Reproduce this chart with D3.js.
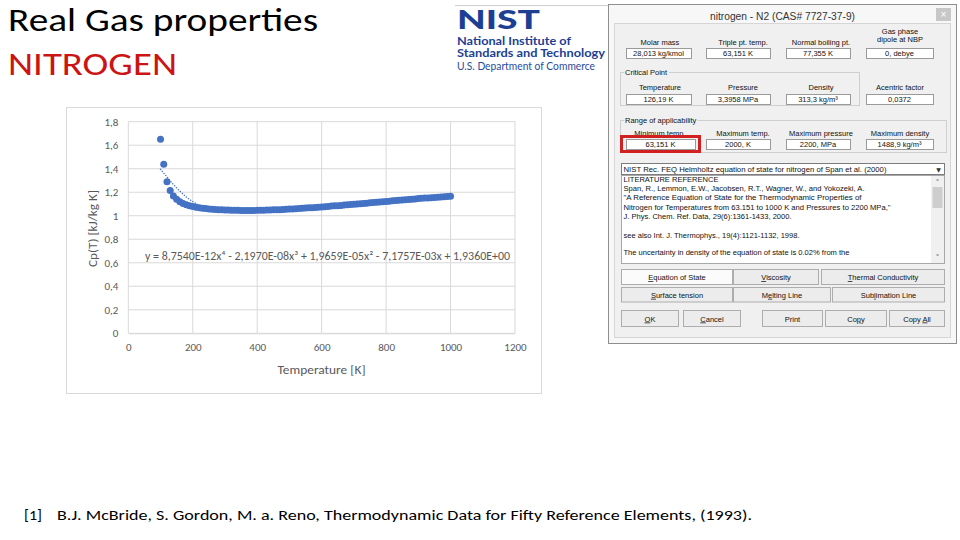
<!DOCTYPE html>
<html><head><meta charset="utf-8">
<script src="https://cdn.jsdelivr.net/npm/d3@7"></script>
<style>body{margin:0;background:#fff;overflow:hidden}svg{display:block}</style>
</head><body>
<svg id="s" width="960" height="540"></svg>
<script>
// ---------------- DATA ----------------
const temperatures = [100,110,120,130,140,150,160,170,180,190,200,210,220,230,240,250,260,270,280,290,
  300,310,320,330,340,350,360,370,380,390,400,410,420,430,440,450,460,470,480,490,
  500,510,520,530,540,550,560,570,580,590,600,610,620,630,640,650,660,670,680,690,
  700,710,720,730,740,750,760,770,780,790,800,810,820,830,840,850,860,870,880,890,
  900,910,920,930,940,950,960,970,980,990,1000];
const cpValues = [1.650,1.437,1.290,1.214,1.168,1.140,1.120,1.105,1.094,1.085,
  1.078,1.072,1.068,1.064,1.061,1.058,1.056,1.054,1.052,1.050,
  1.049,1.048,1.047,1.046,1.046,1.045,1.045,1.045,1.045,1.045,
  1.046,1.046,1.047,1.048,1.049,1.050,1.051,1.052,1.054,1.055,
  1.057,1.058,1.060,1.062,1.063,1.065,1.067,1.069,1.071,1.073,
  1.075,1.077,1.079,1.082,1.084,1.086,1.088,1.091,1.093,1.095,
  1.098,1.100,1.103,1.105,1.107,1.110,1.112,1.115,1.117,1.120,
  1.122,1.124,1.127,1.129,1.132,1.134,1.136,1.139,1.141,1.143,
  1.146,1.148,1.150,1.152,1.154,1.156,1.158,1.160,1.162,1.164,1.166];
// trendline
const trendT  = [100,120,140,160,180,200,220,250,300,350,400,450,500,600,700,800,900,1000];
const trendCp = [1.395,1.33,1.265,1.21,1.16,1.12,1.09,1.062,1.036,1.027,1.03,1.04,1.052,1.074,1.098,1.123,1.146,1.166];
const xTicks = [0,200,400,600,800,1000,1200];
const yTicks = [0,0.2,0.4,0.6,0.8,1,1.2,1.4,1.6,1.8];
const yTickLabels = ["0","0,2","0,4","0,6","0,8","1","1,2","1,4","1,6","1,8"];
const equationText = "y = 8,7540E-12x\u2074 - 2,1970E-08x\u00B3 + 1,9659E-05x\u00B2 - 7,1757E-03x + 1,9360E+00";

// dialog content
const row1Labels = ["Molar mass","Triple pt. temp.","Normal boiling pt."];
const row1Values = ["28,013 kg/kmol","63,151 K","77,355 K","0, debye"];
const row2Labels = ["Temperature","Pressure","Density","Acentric factor"];
const row2Values = ["126,19 K","3,3958 MPa","313,3 kg/m\u00B3","0,0372"];
const row3Labels = ["Minimum temp.","Maximum temp.","Maximum pressure","Maximum density"];
const row3Values = ["63,151 K","2000, K","2200, MPa","1488,9 kg/m\u00B3"];
const refLines = ["LITERATURE REFERENCE",
  "Span, R., Lemmon, E.W., Jacobsen, R.T., Wagner, W., and Yokozeki, A.",
  "\"A Reference Equation of State for the Thermodynamic Properties of",
  "Nitrogen for Temperatures from 63.151 to 1000 K and Pressures to 2200 MPa,\"",
  "J. Phys. Chem. Ref. Data, 29(6):1361-1433, 2000.",
  "see also Int. J. Thermophys., 19(4):1121-1132, 1998.",
  "The uncertainty in density of the equation of state is 0.02% from the"];
const buttonLabels = [["Equation of State","Viscosity","Thermal Conductivity"],
  ["Surface tension","Melting Line","Sublimation Line"],
  ["OK","Cancel","Print","Copy","Copy All"]];

// ---------------- DRAW ----------------
const svg = d3.select('#s');
const F = "Carlito, Calibri, Lato, sans-serif";
const D = "'Liberation Sans', Arial, sans-serif";
function T(g, x, y, s, o) {
  o = o || {};
  const t = g.append('text').attr('x', x).attr('y', y).text(s)
    .attr('font-family', o.ff || F).attr('font-size', o.fs || 12)
    .attr('fill', o.fill || '#000').attr('text-anchor', o.anchor || 'start');
  if (o.fw) t.attr('font-weight', o.fw);
  if (o.len) t.attr('textLength', o.len).attr('lengthAdjust', 'spacingAndGlyphs');
  return t;
}

// slide title
T(svg, 8, 31, "Real Gas properties", {fs: 32, len: 310});
T(svg, 8, 75, "NITROGEN", {fs: 32, fill: '#cc1414', len: 169});

// footnote
T(svg, 24, 520, "[1]", {fs: 15, len: 18});
T(svg, 57, 520, "B.J. McBride, S. Gordon, M. a. Reno, Thermodynamic Data for Fifty Reference Elements, (1993).", {fs: 15, len: 695});

// NIST logo
svg.append('line').attr('x1', 455).attr('x2', 609).attr('y1', 5.5).attr('y2', 5.5).attr('stroke', '#cfcfcf');
const nb = '#1c3f93';
T(svg, 457, 28.5, "NIST", {fs: 27, fw: 900, fill: nb, len: 83, ff: "Lato, sans-serif"});
T(svg, 457, 44.5, "National Institute of", {fs: 10.5, fw: 700, fill: nb, len: 114, ff: "Lato, sans-serif"});
T(svg, 457, 57, "Standards and Technology", {fs: 10.5, fw: 700, fill: nb, len: 148, ff: "Lato, sans-serif"});
T(svg, 457, 69.5, "U.S. Department of Commerce", {fs: 10.5, fill: '#2b4b9b', len: 138, ff: "Lato, sans-serif"});

// ---------------- CHART ----------------
svg.append('rect').attr('x', 66.5).attr('y', 107.5).attr('width', 475).attr('height', 286)
  .attr('fill', '#fff').attr('stroke', '#d9d9d9');
const x = d3.scaleLinear([0, 1200], [128.3, 515]);
const y = d3.scaleLinear([0, 1.8], [333.3, 121.7]);
const grid = svg.append('g');
grid.selectAll('line.h').data(yTicks).join('line').attr('class', 'h')
  .attr('x1', x(0)).attr('x2', x(1200)).attr('y1', d => y(d)).attr('y2', d => y(d))
  .attr('stroke', '#d9d9d9').attr('stroke-width', 1);
grid.selectAll('line.v').data(xTicks).join('line').attr('class', 'v')
  .attr('y1', y(0)).attr('y2', y(1.8)).attr('x1', d => x(d)).attr('x2', d => x(d))
  .attr('stroke', '#d9d9d9').attr('stroke-width', 1);

const xAxis = svg.append('g').attr('transform', `translate(0,${y(0)})`)
  .call(d3.axisBottom(x).tickValues(xTicks).tickSize(0).tickPadding(10).tickFormat(d3.format('d')));
const yAxis = svg.append('g').attr('transform', `translate(${x(0)},0)`)
  .call(d3.axisLeft(y).tickValues(yTicks).tickSize(0).tickPadding(10).tickFormat((d, i) => yTickLabels[i]));
[xAxis, yAxis].forEach(a => {
  a.select('.domain').attr('stroke', '#d9d9d9');
  a.selectAll('text').attr('font-family', F).attr('font-size', 11).attr('fill', '#595959');
});
yAxis.select('.domain').remove();

T(svg, 321.5, 373.5, "Temperature  [K]", {fs: 12, fill: '#595959', anchor: 'middle', len: 88});
T(svg, 0, 0, "Cp(T) [kJ/kg K]", {fs: 12, fill: '#595959', anchor: 'middle', len: 77})
  .attr('transform', 'translate(97,228.5) rotate(-90)');

// markers
const pts = temperatures.map((t, i) => ({t, c: cpValues[i]}));
svg.append('g').selectAll('circle').data(pts).join('circle')
  .attr('cx', d => x(d.t)).attr('cy', d => y(d.c)).attr('r', 3.5).attr('fill', '#4472c4');

// dotted trendline
const tr = trendT.map((t, i) => ({t, c: trendCp[i]}));
svg.append('path').datum(tr)
  .attr('d', d3.line().x(d => x(d.t)).y(d => y(d.c)).curve(d3.curveMonotoneX))
  .attr('fill', 'none').attr('stroke', '#4472c4').attr('stroke-width', 1.4)
  .attr('stroke-dasharray', '0.1,2.6').attr('stroke-linecap', 'round');

T(svg, 145, 260, equationText, {fs: 12, fill: '#595959', len: 365});

// ---------------- DIALOG ----------------
const dg = svg.append('g');
dg.append('rect').attr('x', 608.5).attr('y', 4.5).attr('width', 348).attr('height', 339)
  .attr('fill', '#f7f7f7').attr('stroke', '#8e8e8e');
dg.append('rect').attr('x', 614.5).attr('y', 23.5).attr('width', 336).attr('height', 314)
  .attr('fill', '#f0f0f0').attr('stroke', '#d6d6d6');
T(dg, 782.5, 20, "nitrogen - N2 (CAS# 7727-37-9)", {ff: D, fs: 10, fill: '#333', anchor: 'middle', len: 145});
dg.append('rect').attr('x', 936).attr('y', 8).attr('width', 15).attr('height', 13).attr('fill', '#c7c7c7');
T(dg, 943.5, 17.5, "\u00D7", {ff: D, fs: 10, fill: '#fff', anchor: 'middle'});

const dfs = 7.5, dcol = '#111';
function box(x0, y0, w, h, v) {
  dg.append('rect').attr('x', x0 + 0.5).attr('y', y0 + 0.5).attr('width', w).attr('height', h)
    .attr('fill', '#fff').attr('stroke', '#9a9a9a');
  T(dg, x0 + w / 2, y0 + h / 2 + 3, v, {ff: D, fs: dfs, fill: dcol, anchor: 'middle'});
}
function group(x0, y0, w, h, label) {
  dg.append('rect').attr('x', x0 + 0.5).attr('y', y0 + 0.5).attr('width', w).attr('height', h)
    .attr('fill', 'none').attr('stroke', '#cfcfcf');
  const t = T(dg, x0 + 5, y0 + 3, label, {ff: D, fs: dfs, fill: dcol});
  const bb = t.node().getBBox();
  dg.insert('rect', () => t.node()).attr('x', bb.x - 1).attr('y', bb.y).attr('width', bb.width + 2)
    .attr('height', bb.height).attr('fill', '#f0f0f0');
}
const boxX = [626, 706, 786, 866], boxW = [65, 64, 64, 67];
const labX = [660, 743, 821, 900];
// row 1
row1Labels.forEach((l, i) => T(dg, labX[i], 45, l, {ff: D, fs: dfs, fill: dcol, anchor: 'middle'}));
T(dg, 900, 33.5, "Gas phase", {ff: D, fs: dfs, fill: dcol, anchor: 'middle'});
T(dg, 900, 41.5, "dipole at NBP", {ff: D, fs: dfs, fill: dcol, anchor: 'middle'});
row1Values.forEach((v, i) => box(boxX[i], 48, boxW[i], 10, v));
// critical point
group(620, 72, 239, 33, "Critical Point");
row2Labels.forEach((l, i) => T(dg, i < 3 ? labX[i] : 900, 90, l, {ff: D, fs: dfs, fill: dcol, anchor: 'middle'}));
row2Values.forEach((v, i) => box(boxX[i], 94, boxW[i], 10, v));
// range of applicability
group(620, 120, 326, 32, "Range of applicability");
row3Labels.forEach((l, i) => T(dg, labX[i], 135.5, l, {ff: D, fs: dfs, fill: dcol, anchor: 'middle'}));
const box3W = [69, 64, 64, 67];
row3Values.forEach((v, i) => box(boxX[i], 139, box3W[i], 10, v));
dg.append('rect').attr('x', 621.5).attr('y', 136.5).attr('width', 78).attr('height', 15)
  .attr('fill', 'none').attr('stroke', '#d21f1f').attr('stroke-width', 3);

// dropdown
dg.append('rect').attr('x', 621.5).attr('y', 163.5).attr('width', 323).attr('height', 11)
  .attr('fill', '#fff').attr('stroke', '#7c7c7c');
T(dg, 623.5, 172, "NIST Rec. FEQ  Helmholtz equation of state for nitrogen of Span et al. (2000)",
  {ff: D, fs: dfs, fill: dcol, len: 263});
T(dg, 938.5, 172, "\u25BC", {ff: "DejaVu Sans", fs: 6, fill: '#333', anchor: 'middle'});

// text area
dg.append('rect').attr('x', 621.5).attr('y', 175.5).attr('width', 323).attr('height', 88)
  .attr('fill', '#fff').attr('stroke', '#a8a8a8');
const refY = [182, 191.3, 200.3, 209.7, 218.7, 238, 255.3];
const refLen = [95, 241, 238, 267, 168, 176, 226];
refLines.forEach((l, i) => T(dg, 623.5, refY[i], l, {ff: D, fs: dfs, fill: dcol, len: refLen[i]}));
dg.append('rect').attr('x', 931).attr('y', 176).attr('width', 13).attr('height', 87).attr('fill', '#f0f0f0');
dg.append('rect').attr('x', 932.5).attr('y', 187).attr('width', 10).attr('height', 21).attr('fill', '#cdcdcd');
T(dg, 937.5, 186, "\u02C4", {ff: "DejaVu Sans", fs: 8, fill: '#666', anchor: 'middle'});
T(dg, 937.5, 261, "\u02C5", {ff: "DejaVu Sans", fs: 8, fill: '#666', anchor: 'middle'});

// buttons
const btnRows = [
  {y: 269.5, h: 15, xs: [621.5, 733.5, 821.5], ws: [111, 85, 123]},
  {y: 287.5, h: 14.5, xs: [621.5, 733.5, 832.5], ws: [111, 97, 112]},
  {y: 310.5, h: 16, xs: [621.5, 683.5, 762.5, 825.5, 889.5], ws: [57, 57, 60, 61, 55]}];
const underlineIdx = {"Equation of State": 0, "Viscosity": 0, "Thermal Conductivity": 0,
  "Surface tension": 0, "Melting Line": 1, "Sublimation Line": 3, "OK": 0, "Cancel": 0,
  "Copy": 2, "Copy All": 5};
btnRows.forEach((r, ri) => {
  buttonLabels[ri].forEach((lab, i) => {
    dg.append('rect').attr('x', r.xs[i]).attr('y', r.y).attr('width', r.ws[i]).attr('height', r.h)
      .attr('fill', (ri === 0 && i === 0) ? '#fbfbfb' : '#ececec').attr('stroke', '#adadad');
    const t = dg.append('text').attr('x', r.xs[i] + r.ws[i] / 2).attr('y', r.y + r.h / 2 + 3)
      .attr('font-family', D).attr('font-size', dfs).attr('fill', dcol).attr('text-anchor', 'middle');
    const k = underlineIdx[lab];
    if (k === undefined) { t.text(lab); }
    else {
      t.append('tspan').text(lab.slice(0, k));
      t.append('tspan').attr('text-decoration', 'underline').text(lab[k]);
      t.append('tspan').text(lab.slice(k + 1));
    }
  });
});
</script>
</body></html>
